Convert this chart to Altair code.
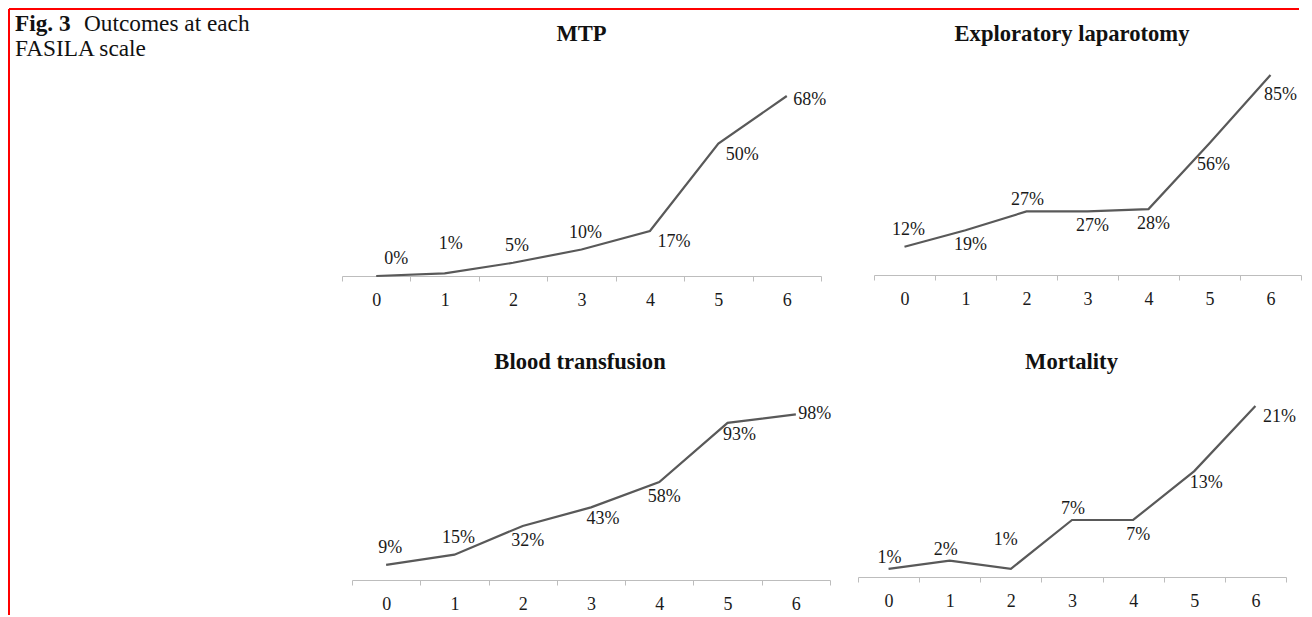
import altair as alt
import pandas as pd

SERIF = "Liberation Serif"

# ---- data -----------------------------------------------------------------
scores = [0, 1, 2, 3, 4, 5, 6]
mtp = [0, 1, 5, 10, 17, 50, 68]
laparotomy = [12, 19, 27, 27, 28, 56, 85]
transfusion = [9, 15, 32, 43, 58, 93, 98]
mortality = [1, 2, 1, 7, 7, 13, 21]

panel_titles = ["MTP", "Exploratory laparotomy", "Blood transfusion", "Mortality"]
caption_bold = "Fig. 3"
caption_lines = ["Outcomes at each", "FASILA scale"]

# label placement keywords (where each value label sits relative to its point)
mtp_pos = ["above_right", "above_far", "above", "above", "right_below", "right_below", "right_low"]
lap_pos = ["above", "below", "above_near", "below", "below", "below_far", "below_far_right"]
tra_pos = ["above", "above", "below", "below_right", "below", "below_right", "right"]
mor_pos = ["above_near", "above_near_left", "above_far_left", "above_near", "below", "below_right", "right_below"]

# ---- styles ---------------------------------------------------------------
OFFSETS = {
    "above": (4, -17),
    "above_near": (1, -11),
    "above_near_left": (-4, -11),
    "above_far": (6, -29),
    "above_far_left": (-5, -29),
    "above_right": (20, -17),
    "below": (5, 15),
    "below_far": (4, 22),
    "below_far_right": (10, 20),
    "below_right": (12, 12),
    "right_below": (24, 11),
    "right": (19, 0),
    "right_low": (23, 4),
}
LINE_COLOR = "#595959"
TEXT_COLOR = "#1a1a1a"
AXIS_COLOR = "#bdbdbd"


def panel(values, pos, title, width, height, xrange, ymax, title_dx):
    df = pd.DataFrame({
        "score": scores,
        "value": values,
        "label": [f"{v}%" for v in values],
        "pos": pos,
    })
    x = alt.X(
        "score:O",
        scale=alt.Scale(type="band", range=xrange, paddingInner=0, paddingOuter=0),
        bandPosition=0.5,
        axis=alt.Axis(
            title=None, tickBand="extent", labelAngle=0, grid=False,
            domainColor=AXIS_COLOR, tickColor=AXIS_COLOR, tickSize=5,
            domainWidth=1, tickWidth=1,
            labelFont=SERIF, labelFontSize=18, labelColor=TEXT_COLOR,
            labelBaseline="alphabetic", labelPadding=24,
        ),
    )
    y = alt.Y("value:Q", scale=alt.Scale(domain=[0, ymax], nice=False, zero=True), axis=None)
    base = alt.Chart(df).encode(x=x, y=y)
    layers = [base.mark_line(color=LINE_COLOR, strokeWidth=2.2)]
    for key, (dx, dy) in OFFSETS.items():
        if key in pos:
            layers.append(
                base.transform_filter(alt.datum.pos == key)
                .mark_text(dx=dx, dy=dy, font=SERIF, fontSize=18, color=TEXT_COLOR,
                           align="center", baseline="middle")
                .encode(text="label:N")
            )
    return alt.layer(*layers).properties(
        width=width, height=height,
        title=alt.Title(title, font=SERIF, fontSize=22.6, fontWeight="bold", color="#111111",
                        anchor="middle", frame="group", offset=-17, baseline="alphabetic",
                        dx=title_dx),
    )


# caption + red frame (kept inside the 1296px-wide page area)
cap = alt.Chart(pd.DataFrame({"t": [0]}))
caption = alt.layer(
    cap.mark_rule(color="#ff0000", strokeWidth=2).encode(
        x=alt.value(0), x2=alt.value(1290), y=alt.value(-38)),
    cap.mark_rule(color="#ff0000", strokeWidth=2).encode(
        x=alt.value(0), y=alt.value(-38), y2=alt.value(568)),
    cap.mark_text(text=caption_bold, font=SERIF, fontSize=23.3, fontWeight="bold",
                  align="left", baseline="alphabetic", color="#111111").encode(
        x=alt.value(6), y=alt.value(-16)),
    cap.mark_text(text=caption_lines[0], font=SERIF, fontSize=23.3,
                  align="left", baseline="alphabetic", color="#111111").encode(
        x=alt.value(75), y=alt.value(-16)),
    cap.mark_text(text=caption_lines[1], font=SERIF, fontSize=23.3,
                  align="left", baseline="alphabetic", color="#111111").encode(
        x=alt.value(6), y=alt.value(9)),
).properties(width=305, height=229)

spacer = alt.Chart(pd.DataFrame({"t": [0]})).mark_point(opacity=0).encode(
    x=alt.value(50), y=alt.value(50)).properties(width=305, height=200)

p_mtp = panel(mtp, mtp_pos, panel_titles[0], 488, 229, [0, 479], 86.5, -4.5)
p_lap = panel(laparotomy, lap_pos, panel_titles[1], 443, 228, [16, 443], 96.9, -7.5)
p_tra = panel(transfusion, tra_pos, panel_titles[2], 488, 205, [10, 488], 121.3, -6)
p_mor = panel(mortality, mor_pos, panel_titles[3], 443, 202, [0, 428], 24.8, -8)

chart = alt.concat(
    caption, p_mtp, p_lap, spacer, p_tra, p_mor,
    columns=3, align="each", bounds="flush",
    spacing={"row": 99, "column": 28},
).properties(
    padding={"left": 0, "top": 0, "right": 0, "bottom": 0}
).configure(font=SERIF).configure_view(stroke=None)

chart.save("out.html", embed_options={"renderer": "svg", "actions": False})
